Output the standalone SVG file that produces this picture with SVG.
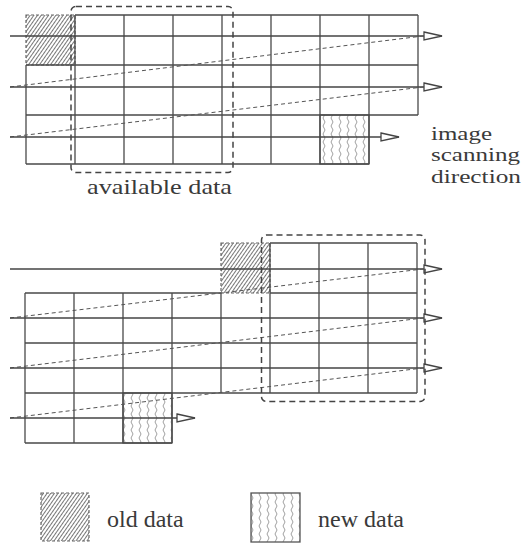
<svg xmlns="http://www.w3.org/2000/svg" width="527" height="546" viewBox="0 0 527 546">
<style>
.g{stroke:#4a4a4a;stroke-width:1.3;fill:none}
.s{stroke:#444;stroke-width:1.4;fill:none}
.d{stroke:#555;stroke-width:1;stroke-dasharray:4 3;fill:none}
.box{stroke:#444;stroke-width:1.5;stroke-dasharray:6 4;fill:none}
.old{fill:url(#hatch);stroke:#666;stroke-width:1.2;stroke-dasharray:3 2}
.new{fill:url(#wave);stroke:#555;stroke-width:1.3}
.t{fill:#3a3a3a;font-family:Liberation Serif,Times New Roman,Times,serif}
</style>
<defs>
<pattern id="hatch" width="3" height="10" patternUnits="userSpaceOnUse" patternTransform="rotate(35)">
<rect width="3" height="10" fill="#fff"/>
<line x1="0.5" y1="0" x2="0.5" y2="10" stroke="#777" stroke-width="1"/>
</pattern>
<pattern id="wave" width="8" height="8" patternUnits="userSpaceOnUse">
<rect width="8" height="8" fill="#fff"/>
<path d="M4,0 q2,2 0,4 q-2,2 0,4" stroke="#888" stroke-width="0.8" fill="none"/>
</pattern>
<marker id="ar" markerUnits="userSpaceOnUse" markerWidth="22" markerHeight="12" refX="19" refY="5" orient="auto">
<path d="M1,1 L19,5 L1,9 Z" fill="#fff" stroke="#444" stroke-width="1.3"/>
</marker>
</defs>

<g id="top-grid">
<rect id="top-old" class="old" x="26" y="15" width="49" height="50"/>
<rect id="top-new" class="new" x="320" y="115" width="49" height="49"/>
<path class="g" d="M75,15H418M26,65H418M26,115H418M26,164H369
M26,65V164M75,15V164M124,15V164M173,15V164M222,15V164M271,15V164M320,15V164M369,15V164M418,15V115"/>
</g>

<g id="bottom-grid">
<rect id="bottom-old" class="old" x="221" y="243" width="49" height="50"/>
<rect id="bottom-new" class="new" x="123" y="393" width="49" height="50"/>
<path class="g" d="M270,243H417M25,293H221M270,293H417M25,343H417M25,393H417M25,443H172
M25,293V443M74,293V443M123,293V443M172,293V443M221,293V393M270,243V393M319,243V393M368,243V393M417,243V393"/>
</g>

<g id="connectors">
<line class="s" x1="10" y1="36" x2="442" y2="36" marker-end="url(#ar)"/>
<line class="d" x1="10" y1="87" x2="423" y2="36"/>
<line class="s" x1="10" y1="87" x2="442" y2="87" marker-end="url(#ar)"/>
<line class="d" x1="10" y1="137" x2="423" y2="87"/>
<line class="s" x1="10" y1="137" x2="399" y2="137" marker-end="url(#ar)"/>

<line class="s" x1="10" y1="269" x2="442" y2="269" marker-end="url(#ar)"/>
<line class="d" x1="10" y1="318" x2="423" y2="269"/>
<line class="s" x1="10" y1="318" x2="442" y2="318" marker-end="url(#ar)"/>
<line class="d" x1="10" y1="368" x2="423" y2="318"/>
<line class="s" x1="10" y1="368" x2="442" y2="368" marker-end="url(#ar)"/>
<line class="d" x1="10" y1="418" x2="423" y2="368"/>
<line class="s" x1="10" y1="418" x2="195" y2="418" marker-end="url(#ar)"/>
</g>

<g id="available-top">
<rect class="box" x="71" y="6.5" width="162" height="166" rx="5"/>
<text class="t" x="87" y="194" font-size="21" textLength="145" lengthAdjust="spacingAndGlyphs">available data</text>
</g>
<g id="available-bottom">
<rect class="box" x="261.5" y="235" width="163.5" height="166.5" rx="5"/>
</g>

<g id="direction-label">
<text class="t" x="431" y="139.5" font-size="19" textLength="61" lengthAdjust="spacingAndGlyphs">image</text>
<text class="t" x="431" y="160.5" font-size="19" textLength="89" lengthAdjust="spacingAndGlyphs">scanning</text>
<text class="t" x="431" y="183" font-size="19" textLength="90" lengthAdjust="spacingAndGlyphs">direction</text>
</g>

<g id="legend-old">
<rect class="old" x="41" y="493" width="48" height="48"/>
<text class="t" x="107" y="527" font-size="24">old data</text>
</g>
<g id="legend-new">
<rect class="new" x="251" y="493" width="49" height="49"/>
<text class="t" x="318" y="527" font-size="24">new data</text>
</g>
</svg>
